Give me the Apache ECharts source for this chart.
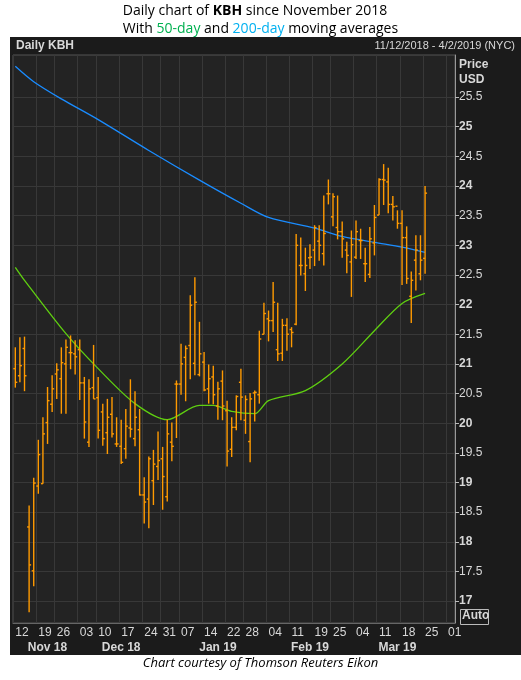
<!DOCTYPE html>
<html>
<head>
<meta charset="utf-8">
<script src="https://cdn.jsdelivr.net/npm/echarts@6/dist/echarts.min.js"></script>
<style>
  html, body { margin: 0; padding: 0; background: #fff; }
  #chart { width: 521px; height: 680px; }
</style>
</head>
<body>
<div id="chart"></div>
<script>
// bars: [open, high, low, close], one per trading day from 11/12/2018
var ohlc = [
  [20.92,21.28,20.60,20.69],[20.80,21.45,20.69,20.97],[21.26,21.46,20.54,20.80],[18.25,18.61,16.81,17.61],
  [17.51,19.08,17.25,18.99],[18.94,19.72,18.81,19.47],[18.98,20.10,18.98,19.82],[20.01,20.61,19.65,20.38],
  [20.32,20.81,20.19,20.58],[20.83,21.01,20.41,20.90],[20.75,21.28,20.16,21.02],[21.00,21.41,20.16,21.28],
  [21.19,21.48,20.91,21.19],[21.17,21.40,20.82,21.12],[21.24,21.41,20.39,20.68],[20.68,20.78,19.74,20.02],
  [19.68,20.74,19.60,20.58],[20.60,21.32,20.41,20.41],[20.43,20.78,19.74,19.88],[20.19,20.33,19.62,19.74],
  [19.84,20.41,19.48,20.10],[20.15,20.44,19.76,19.82],[19.65,20.10,19.60,19.65],[19.61,20.06,19.31,19.34],
  [19.57,20.24,19.40,19.95],[19.92,20.74,19.76,19.90],[19.74,20.54,19.61,20.10],[19.89,20.24,18.78,18.79],
  [18.79,19.09,18.31,18.67],[18.72,19.44,18.23,19.40],[19.03,19.55,18.62,19.31],[19.27,19.86,19.04,19.37],
  [19.40,19.60,18.54,19.10],[18.76,20.06,18.68,19.82],[19.68,20.01,19.36,19.61],[20.66,20.72,19.75,20.66],
  [20.66,21.34,20.48,21.00],[21.11,21.31,20.37,21.26],[21.31,22.16,20.74,21.99],[21.01,22.46,20.81,22.04],
  [20.82,21.71,20.79,21.17],[21.03,21.20,20.54,20.56],[20.58,20.99,20.33,20.75],[20.78,20.97,20.32,20.48],
  [20.29,20.70,20.06,20.58],[20.71,20.89,20.05,20.29],[20.21,20.38,19.27,19.53],[19.56,20.10,19.43,19.93],
  [19.93,20.47,19.88,20.45],[20.69,20.92,20.05,20.44],[20.05,20.47,19.82,20.40],[19.69,20.51,19.34,20.41],
  [20.51,20.55,20.03,20.52],[20.48,21.56,20.33,21.42],[21.50,22.03,21.50,21.85],[21.76,21.90,21.38,21.73],
  [21.73,22.38,21.54,22.04],[21.24,22.03,21.05,21.17],[21.18,21.76,21.05,21.65],[21.65,21.77,21.22,21.50],
  [21.58,21.62,21.28,21.53],[21.67,23.19,21.65,23.00],[22.66,23.13,22.49,22.66],[22.52,22.96,22.23,22.66],
  [22.79,23.02,22.60,22.80],[22.92,23.34,22.65,23.30],[23.07,23.34,22.74,23.00],[22.86,23.84,22.66,23.20],
  [23.87,24.11,23.69,23.87],[23.48,23.88,23.32,23.82],[23.30,23.84,23.10,23.23],[23.23,23.40,22.79,23.11],
  [22.92,23.06,22.53,22.83],[22.72,23.25,22.13,23.01],[22.80,23.42,22.77,23.23],[23.08,23.28,22.77,23.08],
  [22.69,22.96,22.38,22.69],[22.51,23.31,22.45,23.11],[23.04,23.68,22.83,23.47],[23.51,24.13,23.51,24.11],
  [24.11,24.37,23.68,24.10],[24.07,24.31,23.54,23.69],[23.69,23.83,23.42,23.65],[23.66,23.59,23.28,23.37],
  [23.37,23.59,22.33,23.13],[23.13,23.32,22.35,22.44],[22.14,22.56,21.69,22.41],[22.75,23.17,22.24,22.92],
  [22.52,23.17,22.41,22.75],[22.78,24.00,22.52,23.88]
];
// moving averages read at sample points: [dayIndex, value]
var ma200 = [[0,26.02],[4,25.76],[10,25.47],[18,25.12],[29,24.60],[40,24.10],[49,23.71],[55,23.47],[65,23.29],[71,23.15],[78,23.05],[84,22.97],[89,22.88]];
var ma50 = [[0,22.63],[2,22.41],[11,21.51],[18,20.92],[26,20.33],[33,20.06],[40,20.30],[43,20.30],[47,20.20],[52,20.16],[55,20.38],[63,20.55],[71,21.00],[78,21.56],[84,22.02],[89,22.19]];
var priceTicks = [17,17.5,18,18.5,19,19.5,20,20.5,21,21.5,22,22.5,23,23.5,24,24.5,25,25.5];
var monthLabels = {7:'Nov 18', 23:'Dec 18', 44:'Jan 19', 64:'Feb 19', 83:'Mar 19'};
var holidays = ['2018-11-22','2018-12-05','2018-12-25','2019-01-01','2019-01-21','2019-02-18'];

// trading-day categories 11/12/2018 - 4/2/2019
var dates = [];
var d = new Date(Date.UTC(2018,10,12));
var end = new Date(Date.UTC(2019,3,2));
while (d <= end) {
    var s = d.toISOString().slice(0,10);
    var w = d.getUTCDay();
    if (w !== 0 && w !== 6 && holidays.indexOf(s) < 0) dates.push(s);
    d = new Date(d.getTime() + 86400000);
}
function dow(i) { return new Date(dates[i] + 'T00:00:00Z').getUTCDay(); }
function weekStart(i) { return i === 0 || dow(i) <= dow(i-1); }
function monthStart(i) { return i === 0 || dates[i].slice(5,7) !== dates[i-1].slice(5,7); }

var barData = ohlc.map(function (b, i) { return [i, b[0], b[1], b[2], b[3]]; });
function maSeries(pts) {
    return pts.map(function (p) { return [dates[p[0]], p[1]]; });
}

var myChart = echarts.init(document.getElementById('chart'));
var txt = '#d8d8d8';
option = {
    animation: false,
    backgroundColor: '#fff',
    graphic: [
        {type: 'rect', left: 10, top: 37, shape: {width: 511, height: 618}, style: {fill: '#1b1b1b'}, z: -10},
        {type: 'text', left: 'center', top: 2, style: {
            text: 'Daily chart of {b|KBH} since November 2018\nWith {g|50-day} and {bl|200-day} moving averages',
            font: '14px "Open Sans"', fill: '#000', align: 'center', lineHeight: 18,
            rich: {b: {fontWeight: 'bold', fontSize: 14, fontFamily: 'Open Sans'},
                   g: {fill: '#00b050', fontSize: 14, fontFamily: 'Open Sans'},
                   bl: {fill: '#00b0f0', fontSize: 14, fontFamily: 'Open Sans'}}
        }},
        {type: 'text', left: 16, top: 40, style: {text: 'Daily KBH', font: 'bold 12px "Liberation Sans"', fill: txt}},
        {type: 'text', right: 6, top: 40, style: {text: '11/12/2018 - 4/2/2019 (NYC)', font: '11px "Liberation Sans"', fill: txt}},
        {type: 'text', left: 459, top: 57, style: {text: 'Price\nUSD', font: 'bold 12px "Liberation Sans"', fill: txt, lineHeight: 15}},
        {type: 'rect', left: 460, top: 609, shape: {width: 28, height: 15}, style: {fill: '#1b1b1b', stroke: '#bbb', lineWidth: 1}},
        {type: 'text', left: 462, top: 610, style: {text: 'Auto', font: 'bold 12px "Liberation Sans"', fill: txt}},
        {type: 'text', left: 'center', top: 657, style: {text: 'Chart courtesy of Thomson Reuters Eikon', font: 'italic 13px "Open Sans"', fill: '#000'}}
    ],
    grid: {left: 13, right: 66, top: 55, bottom: 57, show: true, backgroundColor: '#232323', borderColor: '#555', borderWidth: 1},
    xAxis: [{
        type: 'category', data: dates, boundaryGap: true,
        axisLine: {lineStyle: {color: '#666'}},
        axisTick: {interval: function (i) { return weekStart(i); }, length: 4, lineStyle: {color: '#bbb'}},
        axisLabel: {interval: function (i) { return weekStart(i); }, align: 'left', margin: 4,
            color: txt, fontSize: 12, fontFamily: 'Liberation Sans',
            formatter: function (v) { return v.slice(8,10); }},
        splitLine: {show: true, interval: function (i) { return weekStart(i); }, lineStyle: {color: '#383838'}}
    }, {
        type: 'category', data: dates, boundaryGap: true, position: 'bottom', offset: 16,
        axisLine: {show: false},
        axisTick: {interval: function (i) { return monthStart(i); }, length: 17, lineStyle: {color: '#888'}},
        axisLabel: {interval: function (i) { return monthLabels[i] !== undefined; }, hideOverlap: false,
            margin: 3, color: txt, fontSize: 12, fontWeight: 'bold', fontFamily: 'Liberation Sans',
            formatter: function (v, i) { return monthLabels[i] || ''; }}
    }],
    yAxis: {
        type: 'value', position: 'right', min: 16.63, max: 26.21, scale: true,
        axisLine: {show: true, lineStyle: {color: '#999'}},
        axisTick: {show: true, customValues: priceTicks, length: 4, lineStyle: {color: '#bbb'}},
        axisLabel: {customValues: priceTicks, margin: 4, color: txt, fontSize: 12, fontFamily: 'Liberation Sans',
            formatter: function (v) { return v % 1 === 0 ? '{b|' + v + '}' : String(v); },
            rich: {b: {fontWeight: 'bold', fontSize: 12, color: txt, fontFamily: 'Liberation Sans'}}},
        splitLine: {show: true, lineStyle: {color: '#383838'}}
    },
    series: [{
        type: 'line', data: maSeries(ma200), symbol: 'none', smooth: 0.3,
        lineStyle: {color: '#1a8cff', width: 1.3}, z: 3
    }, {
        type: 'line', data: maSeries(ma50), symbol: 'none', smooth: 0.3,
        lineStyle: {color: '#5fcf10', width: 1.3}, z: 3
    }, {
        type: 'custom', data: barData, encode: {x: 0, y: [1,2,3,4]}, z: 4,
        renderItem: function (params, api) {
            var x = api.coord([api.value(0), 0])[0];
            var o = api.coord([api.value(0), api.value(1)])[1];
            var h = api.coord([api.value(0), api.value(2)])[1];
            var l = api.coord([api.value(0), api.value(3)])[1];
            var c = api.coord([api.value(0), api.value(4)])[1];
            var st = {stroke: '#ff9a00', lineWidth: 1.4};
            return {type: 'group', children: [
                {type: 'line', shape: {x1: x, y1: h, x2: x, y2: l}, style: st},
                {type: 'line', shape: {x1: x - 2, y1: o, x2: x, y2: o}, style: st},
                {type: 'line', shape: {x1: x, y1: c, x2: x + 2, y2: c}, style: st}
            ]};
        }
    }]
};
myChart.setOption(option);
</script>
</body>
</html>
